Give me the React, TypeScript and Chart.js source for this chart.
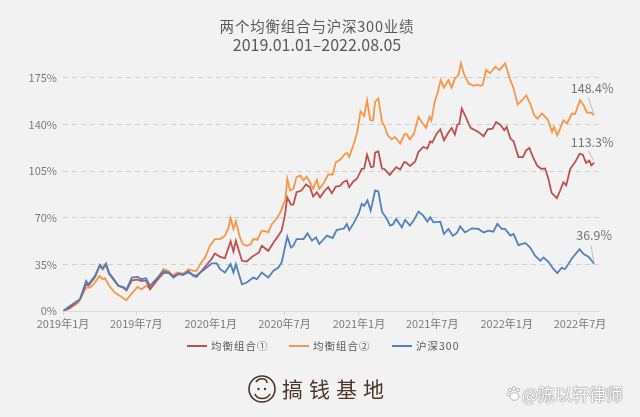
import React, { useEffect, useRef } from "react";
import { Chart, registerables } from "chart.js";

Chart.register(...registerables);

const TITLE = "两个均衡组合与沪深300业绩";
const SUBTITLE = "2019.01.01–2022.08.05";
const SERIES_NAMES = ["均衡组合①", "均衡组合②", "沪深300"];
const SERIES_COLORS = ["#c0504d", "#f79646", "#4f81bd"];
const END_LABELS = ["113.3%", "148.4%", "36.9%"];
const BRAND = "搞钱基地";
const WATERMARK = "@陈以轩律师";

// x: days since 2019-01-01
const TICK_DAYS = [0, 181, 365, 547, 731, 912, 1096, 1277];
const TICK_LABELS = ["2019年1月", "2019年7月", "2020年1月", "2020年7月", "2021年1月", "2021年7月", "2022年1月", "2022年7月"];
const Y_TICKS = [0, 35, 70, 105, 140, 175];

const combo1Days = [0,17,42,57,63,79,91,98,106,114,124,137,149,157,170,184,194,205,215,232,248,260,273,285,297,310,322,330,339,355,367,375,388,400,414,421,427,442,454,467,475,484,491,507,520,532,540,548,554,563,569,577,589,600,610,618,627,635,647,655,664,674,684,692,701,707,717,726,738,744,751,761,767,771,779,788,794,807,823,833,843,848,857,870,878,890,900,907,912,923,932,941,952,960,968,974,979,985,993,1003,1007,1026,1039,1049,1061,1070,1080,1090,1096,1105,1113,1125,1136,1144,1152,1161,1171,1181,1191,1199,1207,1220,1228,1236,1243,1253,1265,1276,1284,1292,1300,1305,1312];
const combo1Values = [0,2.5,8.8,20,19,25.5,34.7,32,35.7,28.5,24.5,19,17.5,15.5,23.1,23.5,22.5,23,16.3,23,28.5,28.9,26,28,27.5,29,27,26.5,28.9,34.7,39,43.2,40.7,39.7,52.3,44.7,52.8,37.7,37.2,40.7,42.2,44,49,45.2,51.5,56.6,60.3,71.6,85.4,79.9,79.9,89.2,90.5,95,93,86,89.2,85.4,90.5,93,88.5,93.5,94,96.7,98,93,97.3,99.3,106.8,107,117.4,108,108.5,118.9,119.9,106.8,106.5,102.3,108,106.3,111.8,111.5,108.8,112.3,119.4,123.2,122,127.4,126.5,133.2,136.5,128.2,134,137.5,132.5,140,140.5,152.1,147,140,137.5,134.5,131.2,136.5,137,142,140,135.7,138.2,129.5,127.4,115.6,115.6,120.6,122.4,115.6,109.3,106.8,107,99.3,88.7,84.7,90.5,96.7,94.3,106.8,111.8,118.1,117.4,111.3,112.9,109.3,111.5];

const combo2Days = [0,17,38,57,67,79,90,98,104,114,128,145,156,165,184,194,205,215,232,248,260,273,281,297,310,322,330,339,351,363,375,388,400,408,414,421,427,437,444,454,464,470,480,491,499,507,516,527,537,545,549,554,561,569,577,586,594,602,610,618,627,633,643,655,666,674,684,697,702,707,717,727,735,744,751,759,766,771,779,788,794,802,812,820,833,843,848,857,867,878,886,897,905,910,919,925,933,941,952,960,968,977,983,991,1002,1014,1023,1032,1037,1045,1055,1068,1078,1092,1105,1113,1123,1134,1144,1154,1164,1172,1183,1197,1208,1213,1221,1228,1236,1245,1257,1265,1277,1286,1294,1304,1312];
const combo2Values = [0,2,6.3,17.6,17.6,21.4,26.4,23.9,24.6,18.9,13.8,10.6,8.1,11.3,18.1,16.3,18.9,17.1,23.9,31.4,30.2,26.4,28.9,28.1,31.4,30.2,30.2,35.2,40.2,49,54,54,56.6,61.6,69.9,61.6,67.4,55.3,50.3,49,50.3,54,53.5,60.3,60,59,65.4,69.1,74.1,80.5,83,99.3,90.5,91.7,100.6,101.8,98,101,96.7,91.7,98.5,91.7,95.5,102.5,102.5,111.8,113.5,118.1,118.6,115.6,124.4,134.5,150.1,146.5,158.3,143.3,143,157.1,159.6,142,139,132,128.9,130.7,125.7,132.5,133,128.9,133.2,145.8,142,137.5,145.8,143,158.3,163.4,173.4,167.7,173.4,167.7,174.7,177.2,186,177.5,171,169.1,170,169.1,170,181,178.5,183.5,181,186,173.4,167.2,155,158.3,162,155.8,147,144.5,148.3,144,134.5,138.2,132,137,143.3,140.8,148.3,148,158.3,154.6,149,149,147];

const hs300Days = [0,17,42,57,63,79,91,98,106,114,124,137,149,157,170,184,194,205,215,232,248,260,273,285,297,310,322,330,339,355,367,380,388,400,414,421,427,442,454,470,479,491,507,520,532,540,554,563,569,577,594,604,615,625,633,652,666,676,689,694,701,707,717,730,738,744,752,760,771,779,788,800,808,815,823,837,845,857,866,878,890,900,907,915,932,941,952,963,973,981,993,1010,1026,1039,1051,1063,1073,1084,1092,1105,1113,1125,1142,1154,1166,1179,1187,1199,1212,1221,1232,1240,1257,1276,1286,1298,1312];
const hs300Values = [0,3.8,8.8,22.6,20,26.4,34,31.4,35,27.7,23.9,18.9,18,16.3,25.1,25.6,23.9,24.6,18.9,24.6,30,28.9,25.1,27.7,27,30,26.4,25.6,28.9,32.6,35.7,35.7,31.4,28.9,35.2,28.9,35.2,20.1,21.4,25.1,23.9,28.9,25.1,30.2,32.6,36.4,55.8,47.7,49,54,54,58.3,52.8,55.3,50.3,56.6,54.8,60.8,61.6,62,65.4,60.8,65.4,72.9,80.5,79,83,75.4,90.5,89.7,74.6,69.1,64.1,65,69.1,62.8,68.4,64.1,67.9,74.6,71.6,67.1,70.4,66.6,67.1,57.8,61.6,56.6,58.6,63.5,59,62.1,61.6,59,60.3,59.6,65.4,61.6,61.6,56.6,57.8,49.5,51.1,47.7,41.5,37.7,40.2,37,31.4,28.4,32.6,31.4,39.4,46.5,42.7,40.7,35.5];

const SERIES_DAYS = [combo1Days, combo2Days, hs300Days];
const SERIES_VALUES = [combo1Values, combo2Values, hs300Values];
const SERIES_ORDER = [1, 2, 0];

// label offsets relative to each series' last point (style, not data)
const LABEL_OFFSETS = [
  { tx: -2, ty: -20, lx: -6, ly: -12 },
  { tx: -2, ty: -27, lx: -6, ly: -18 },
  { tx: 0, ty: -28, lx: -3, ly: -18 },
];

const FONT = "'Noto Sans CJK SC', 'Noto Sans', sans-serif";

const endLabelPlugin = {
  id: "endLabels",
  afterDatasetsDraw(chart: any) {
    const ctx = chart.ctx;
    chart.data.datasets.forEach((_ds: any, i: number) => {
      const meta = chart.getDatasetMeta(i);
      const pt = meta.data[meta.data.length - 1];
      if (!pt) return;
      const off = LABEL_OFFSETS[i];
      ctx.save();
      ctx.strokeStyle = "#bdbdbd";
      ctx.lineWidth = 1;
      ctx.beginPath();
      ctx.moveTo(pt.x + off.lx, pt.y + off.ly);
      ctx.lineTo(pt.x - 0.5, pt.y - 2);
      ctx.stroke();
      ctx.fillStyle = "#757575";
      ctx.font = `12.5px ${FONT}`;
      ctx.textAlign = "center";
      ctx.textBaseline = "middle";
      ctx.fillText(END_LABELS[i], pt.x + off.tx, pt.y + off.ty);
      ctx.restore();
    });
  },
};

function Paw() {
  return (
    <svg width="16" height="16" viewBox="0 0 16 16" style={{ position: "absolute", left: 506, top: 386 }}>
      <g fill="#ffffff" stroke="#b5b5b5" strokeWidth="1">
        <circle cx="4" cy="4" r="1.8" />
        <circle cx="8" cy="2.5" r="1.8" />
        <circle cx="12" cy="4" r="1.8" />
        <circle cx="2.5" cy="8.5" r="1.6" />
        <ellipse cx="8.5" cy="10.5" rx="4.5" ry="3.8" />
      </g>
    </svg>
  );
}

function Logo() {
  return (
    <svg width="30" height="30" viewBox="0 0 30 30" style={{ position: "absolute", left: 247, top: 374 }}>
      <g fill="none" stroke="#4b3428" strokeWidth="1.6">
        <circle cx="15" cy="15" r="13" />
        <path d="M9 8 C 12 3, 20 4, 20 9" />
        <path d="M8 20 C 10 26, 20 26, 23 20" />
      </g>
      <circle cx="11.5" cy="15" r="1.2" fill="#4b3428" />
      <circle cx="18" cy="15" r="1.2" fill="#4b3428" />
    </svg>
  );
}

export default function App() {
  const ref = useRef<HTMLCanvasElement>(null);

  useEffect(() => {
    if (!ref.current) return;
    const datasets = SERIES_NAMES.map((name, i) => ({
      label: name,
      data: SERIES_DAYS[i].map((d, j) => ({ x: d, y: SERIES_VALUES[i][j] })),
      borderColor: SERIES_COLORS[i],
      backgroundColor: SERIES_COLORS[i],
      borderWidth: 1.8,
      pointRadius: 0,
      tension: 0,
      order: SERIES_ORDER[i],
    }));
    const chart = new Chart(ref.current, {
      type: "line",
      data: { datasets },
      plugins: [endLabelPlugin],
      options: {
        animation: false,
        responsive: false,
        devicePixelRatio: 1,
        parsing: true,
        layout: { padding: { top: 58, right: 41, bottom: 86, left: 0 } },
        plugins: {
          legend: { display: false },
          title: { display: false },
          tooltip: { enabled: false },
        },
        scales: {
          x: {
            type: "linear",
            min: 0,
            max: 1324,
            afterBuildTicks: (scale: any) => {
              scale.ticks = TICK_DAYS.map((v) => ({ value: v }));
            },
            afterFit: (scale: any) => {
              scale.height = 20;
            },
            ticks: {
              autoSkip: false,
              maxRotation: 0,
              padding: 2,
              color: "#7a7a7a",
              font: { family: FONT, size: 11 },
              callback: (v: any) => {
                const k = TICK_DAYS.indexOf(Number(v));
                return k >= 0 ? TICK_LABELS[k] : null;
              },
            },
            grid: { drawOnChartArea: false, drawTicks: true, tickLength: 4, color: "#d9d9d9" },
            border: { display: true, color: "#d9d9d9", width: 1 },
          },
          y: {
            min: 0,
            max: 190,
            afterBuildTicks: (scale: any) => {
              scale.ticks = Y_TICKS.map((v) => ({ value: v }));
            },
            afterFit: (scale: any) => {
              scale.width = 63;
            },
            ticks: {
              padding: 6,
              color: "#7a7a7a",
              font: { family: FONT, size: 11 },
              callback: (v: any) => `${v}%`,
            },
            grid: {
              drawTicks: false,
              color: (c: any) => (c.tick && c.tick.value === 0 ? "rgba(0,0,0,0)" : "#d0d0d0"),
              lineWidth: 1,
            },
            border: { display: false, dash: [5, 4] },
          },
        },
      } as any,
    });
    return () => chart.destroy();
  }, []);

  return (
    <div
      style={{
        position: "absolute",
        left: 0,
        top: 0,
        width: 640,
        height: 417,
        background: "#f2f2f2",
        overflow: "hidden",
        fontFamily: FONT,
      }}
    >
      <canvas ref={ref} width={640} height={417} style={{ position: "absolute", left: 0, top: 0, width: 640, height: 417 }} />
      <div style={{ position: "absolute", left: 0, top: 16, width: 634, textAlign: "center", fontSize: 14.5, color: "#595959", letterSpacing: 0.8, lineHeight: "20px" }}>
        {TITLE}
      </div>
      <div style={{ position: "absolute", left: 0, top: 33, width: 634, textAlign: "center", fontSize: 16, color: "#595959", lineHeight: "22px" }}>
        {SUBTITLE}
      </div>
      <div style={{ position: "absolute", left: 0, top: 338, width: 640, height: 16 }}>
        {SERIES_NAMES.map((name, i) => (
          <div key={name} style={{ position: "absolute", left: [187, 289, 392][i], top: 0, height: 16, display: "flex", alignItems: "center" }}>
            <div style={{ width: 20, height: 2, background: SERIES_COLORS[i], marginRight: 4 }} />
            <span style={{ fontSize: 10.5, color: "#595959", letterSpacing: 1, lineHeight: "16px", whiteSpace: "nowrap" }}>{name}</span>
          </div>
        ))}
      </div>
      <Logo />
      <div style={{ position: "absolute", left: 282, top: 374, fontSize: 21, color: "#4b3428", letterSpacing: 6, lineHeight: "28px", whiteSpace: "nowrap" }}>
        {BRAND}
      </div>
      <Paw />
      <div
        style={{
          position: "absolute",
          left: 522,
          top: 383,
          fontSize: 17,
          color: "#ffffff",
          lineHeight: "22px",
          whiteSpace: "nowrap",
          textShadow: "0 0 1px #8a8a8a, 0 0 1px #8a8a8a, 0 0 2px #9a9a9a",
        }}
      >
        {WATERMARK}
      </div>
    </div>
  );
}
